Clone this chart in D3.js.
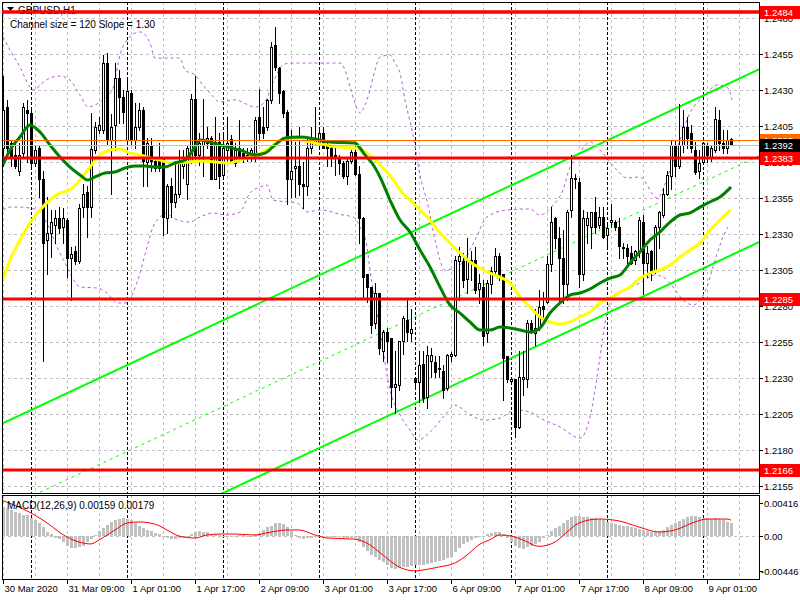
<!DOCTYPE html>
<html><head><meta charset="utf-8">
<script src="https://cdn.jsdelivr.net/npm/d3@7"></script>
<style>body{margin:0;background:#fff}svg{display:block}text{font-family:"Liberation Sans",Arial,sans-serif;}</style>
</head><body><svg id="c" width="800" height="600"></svg>
<script>
// ---------- DATA ----------
const symbolTitle = "GBPUSD,H1";
const channelText = "Channel size = 120 Slope = 1.30";
const macdText = "MACD(12,26,9) 0.00159 0.00179";
const openP=[1.2390,1.2418,1.2393,1.2385,1.2374,1.2386,1.2416,1.2414,1.2379,1.2390,
1.2368,1.2326,1.2331,1.2336,1.2341,1.2335,1.2340,1.2313,1.2318,1.2311,
1.2349,1.2359,1.2349,1.2388,1.2402,1.2402,1.2449,1.2395,1.2406,1.2438,
1.2425,1.2395,1.2428,1.2395,1.2404,1.2416,1.2380,1.2392,1.2381,1.2383,
1.2383,1.2341,1.2363,1.2352,1.2358,1.2377,1.2365,1.2381,1.2424,1.2385,
1.2392,1.2393,1.2397,1.2368,1.2394,1.2371,1.2388,1.2396,1.2379,1.2390,
1.2386,1.2383,1.2383,1.2386,1.2411,1.2404,1.2404,1.2423,1.2461,1.2445,
1.2429,1.2415,1.2368,1.2376,1.2377,1.2365,1.2363,1.2390,1.2394,1.2394,
1.2400,1.2392,1.2390,1.2385,1.2383,1.2379,1.2370,1.2381,1.2387,1.2372,
1.2341,1.2302,1.2293,1.2268,1.2289,1.2249,1.2262,1.2258,1.2224,1.2225,
1.2256,1.2270,1.2261,1.2230,1.2227,1.2240,1.2217,1.2242,1.2241,1.2236,
1.2235,1.2223,1.2245,1.2246,1.2311,1.2311,1.2299,1.2311,1.2312,1.2292,
1.2293,1.2261,1.2295,1.2304,1.2315,1.2302,1.2245,1.2228,1.2229,1.2196,
1.2229,1.2229,1.2268,1.2261,1.2265,1.2280,1.2283,1.2309,1.2341,1.2327,
1.2313,1.2295,1.2347,1.2368,1.2366,1.2302,1.2336,1.2335,1.2345,1.2336,
1.2342,1.2329,1.2338,1.2338,1.2335,1.2321,1.2320,1.2317,1.2312,1.2318,
1.2338,1.2310,1.2318,1.2305,1.2335,1.2343,1.2358,1.2370,1.2392,1.2377,
1.2392,1.2404,1.2400,1.2388,1.2374,1.2380,1.2392,1.2383,1.2388,1.2409,
1.2393,1.2390,1.2396];
const highP=[1.2440,1.2423,1.2395,1.2393,1.2393,1.2421,1.2423,1.2416,1.2392,1.2392,
1.2374,1.2356,1.2347,1.2347,1.2349,1.2348,1.2341,1.2321,1.2322,1.2351,
1.2365,1.2363,1.2414,1.2408,1.2411,1.2454,1.2456,1.2413,1.2449,1.2444,
1.2430,1.2438,1.2430,1.2421,1.2421,1.2418,1.2397,1.2397,1.2383,1.2393,
1.2383,1.2365,1.2369,1.2381,1.2388,1.2388,1.2392,1.2427,1.2440,1.2400,
1.2424,1.2404,1.2398,1.2411,1.2400,1.2400,1.2411,1.2399,1.2393,1.2409,
1.2390,1.2390,1.2390,1.2411,1.2431,1.2418,1.2424,1.2463,1.2474,1.2446,
1.2430,1.2416,1.2402,1.2394,1.2404,1.2380,1.2397,1.2404,1.2418,1.2404,
1.2404,1.2394,1.2392,1.2390,1.2385,1.2381,1.2383,1.2388,1.2394,1.2377,
1.2342,1.2302,1.2293,1.2296,1.2289,1.2263,1.2265,1.2258,1.2249,1.2256,
1.2273,1.2284,1.2278,1.2231,1.2249,1.2249,1.2252,1.2251,1.2245,1.2245,
1.2239,1.2247,1.2248,1.2315,1.2321,1.2317,1.2327,1.2318,1.2321,1.2302,
1.2298,1.2298,1.2307,1.2320,1.2317,1.2302,1.2245,1.2230,1.2229,1.2249,
1.2249,1.2270,1.2270,1.2278,1.2291,1.2290,1.2315,1.2349,1.2342,1.2335,
1.2333,1.2347,1.2385,1.2372,1.2369,1.2347,1.2345,1.2345,1.2356,1.2349,
1.2349,1.2338,1.2351,1.2340,1.2341,1.2324,1.2323,1.2322,1.2319,1.2342,
1.2343,1.2322,1.2319,1.2336,1.2346,1.2362,1.2374,1.2395,1.2395,1.2420,
1.2416,1.2411,1.2406,1.2394,1.2388,1.2394,1.2393,1.2392,1.2418,1.2416,
1.2402,1.2402,1.2397];
const lowP=[1.2377,1.2383,1.2377,1.2376,1.2371,1.2383,1.2380,1.2377,1.2377,1.2356,
1.2242,1.2302,1.2314,1.2324,1.2331,1.2324,1.2300,1.2284,1.2309,1.2310,
1.2342,1.2328,1.2342,1.2386,1.2400,1.2400,1.2392,1.2358,1.2388,1.2407,
1.2407,1.2393,1.2392,1.2390,1.2402,1.2363,1.2363,1.2374,1.2374,1.2374,
1.2329,1.2331,1.2342,1.2349,1.2356,1.2369,1.2354,1.2379,1.2381,1.2378,
1.2370,1.2390,1.2368,1.2368,1.2362,1.2368,1.2381,1.2379,1.2377,1.2381,
1.2380,1.2381,1.2381,1.2381,1.2395,1.2397,1.2402,1.2421,1.2444,1.2421,
1.2411,1.2351,1.2356,1.2356,1.2357,1.2348,1.2357,1.2386,1.2392,1.2390,
1.2390,1.2377,1.2377,1.2371,1.2372,1.2369,1.2365,1.2379,1.2371,1.2324,
1.2286,1.2283,1.2261,1.2265,1.2247,1.2242,1.2241,1.2210,1.2206,1.2222,
1.2247,1.2256,1.2256,1.2223,1.2213,1.2213,1.2209,1.2231,1.2231,1.2231,
1.2216,1.2222,1.2242,1.2245,1.2284,1.2293,1.2289,1.2298,1.2289,1.2282,
1.2253,1.2255,1.2289,1.2302,1.2298,1.2215,1.2227,1.2227,1.2189,1.2195,
1.2218,1.2224,1.2261,1.2253,1.2263,1.2268,1.2282,1.2304,1.2320,1.2282,
1.2282,1.2284,1.2342,1.2362,1.2293,1.2298,1.2324,1.2320,1.2331,1.2334,
1.2327,1.2322,1.2335,1.2333,1.2313,1.2313,1.2310,1.2309,1.2309,1.2314,
1.2288,1.2300,1.2298,1.2303,1.2320,1.2342,1.2357,1.2361,1.2370,1.2376,
1.2387,1.2390,1.2387,1.2372,1.2369,1.2379,1.2380,1.2381,1.2387,1.2388,
1.2386,1.2386,1.2392];
const closeP=[1.2416,1.2390,1.2383,1.2377,1.2385,1.2418,1.2414,1.2379,1.2388,1.2368,
1.2324,1.2331,1.2338,1.2341,1.2334,1.2341,1.2313,1.2316,1.2311,1.2348,
1.2358,1.2349,1.2389,1.2404,1.2406,1.2449,1.2395,1.2404,1.2438,1.2425,
1.2415,1.2429,1.2395,1.2404,1.2416,1.2381,1.2393,1.2381,1.2376,1.2376,
1.2342,1.2363,1.2352,1.2358,1.2381,1.2381,1.2390,1.2424,1.2385,1.2393,
1.2396,1.2397,1.2368,1.2394,1.2370,1.2390,1.2393,1.2380,1.2388,1.2383,
1.2383,1.2385,1.2388,1.2409,1.2400,1.2400,1.2423,1.2460,1.2446,1.2428,
1.2414,1.2368,1.2374,1.2377,1.2365,1.2363,1.2390,1.2397,1.2396,1.2400,
1.2390,1.2390,1.2383,1.2383,1.2379,1.2370,1.2381,1.2387,1.2372,1.2341,
1.2300,1.2293,1.2267,1.2289,1.2251,1.2262,1.2256,1.2224,1.2226,1.2256,
1.2272,1.2262,1.2264,1.2227,1.2239,1.2216,1.2246,1.2246,1.2234,1.2237,
1.2222,1.2246,1.2247,1.2312,1.2315,1.2298,1.2312,1.2312,1.2291,1.2296,
1.2259,1.2296,1.2304,1.2315,1.2300,1.2244,1.2229,1.2229,1.2196,1.2231,
1.2231,1.2268,1.2262,1.2265,1.2279,1.2278,1.2309,1.2338,1.2327,1.2313,
1.2295,1.2345,1.2369,1.2369,1.2302,1.2341,1.2341,1.2345,1.2335,1.2342,
1.2328,1.2334,1.2340,1.2335,1.2322,1.2320,1.2315,1.2310,1.2318,1.2340,
1.2310,1.2317,1.2304,1.2335,1.2345,1.2358,1.2371,1.2392,1.2377,1.2392,
1.2404,1.2397,1.2390,1.2373,1.2379,1.2393,1.2385,1.2390,1.2410,1.2393,
1.2390,1.2395,1.2392];

// moving averages: [bar, price]
const maGreen=[[0,1.23779],[1.75,1.23883],[4.25,1.23974],[6.75,1.24057],[9.25,1.24008],[11.75,1.23918],[14.25,1.23835],[16.75,1.23765],[19.25,1.2371],[21.25,1.23675],[23,1.23696],[25.5,1.23724],[28,1.23731],[30.5,1.23758],[33,1.23772],[35.5,1.23772],[38,1.23765],[40.5,1.23765],[43,1.23793],[45.5,1.23814],[48,1.23904],[49.25,1.23953],[54.25,1.23918],[59.25,1.23883],[63,1.23849],[65.5,1.23862],[68,1.23918],[70.5,1.23967],[74.25,1.23974],[78,1.2396],[81.75,1.23939],[88,1.23932],[89.25,1.23897],[90.5,1.23849],[92.25,1.23793],[94.25,1.23696],[96.75,1.23536],[99.25,1.23397],[101.75,1.23314],[104.25,1.23189],[106.75,1.23071],[109.25,1.22932],[111.75,1.22807],[114.25,1.22751],[116.75,1.22689],[119.25,1.22633],[121.75,1.22633],[124.25,1.22654],[126.75,1.22647],[129.25,1.22633],[131.75,1.22619],[134.25,1.22647],[136.75,1.22751],[139.25,1.22821],[141.75,1.22876],[144.25,1.2289],[146.75,1.22918],[149.25,1.2296],[151.75,1.22994],[154.25,1.23015],[156.75,1.23099],[159.25,1.23175],[161.75,1.23258],[164.25,1.23314],[166.75,1.23383],[169.25,1.23432],[171.75,1.23446],[174.25,1.23487],[176.75,1.23522],[179.25,1.23557],[182,1.23626]];
const maYellow=[[0,1.22981],[1.75,1.23119],[4.25,1.23258],[6.75,1.23376],[9.25,1.23467],[11.75,1.23536],[14.25,1.23585],[16.75,1.23606],[19.25,1.23675],[21.75,1.23765],[24.25,1.23849],[26.75,1.23883],[29.25,1.2389],[31.75,1.23862],[34.25,1.23849],[36.75,1.23828],[39.25,1.23814],[41.75,1.23793],[46.75,1.238],[49.25,1.23807],[56.75,1.23793],[59.25,1.23814],[61.75,1.23835],[64.25,1.23862],[66.75,1.23897],[69.25,1.23953],[71.75,1.23967],[74.25,1.23953],[79.25,1.23925],[84.25,1.23904],[88,1.23897],[90.5,1.23869],[93,1.23814],[95.5,1.23744],[98,1.23661],[99.25,1.23606],[101.75,1.23536],[104.25,1.23467],[106.75,1.23397],[109.25,1.23307],[111.75,1.23237],[114.25,1.23168],[116.75,1.23106],[119.25,1.23064],[121.75,1.23029],[124.25,1.23001],[126.75,1.2296],[129.25,1.22862],[131.75,1.22793],[134.25,1.22724],[136.75,1.22689],[139.25,1.22675],[141.75,1.22689],[144.25,1.22724],[146.75,1.22758],[149.25,1.22821],[151.75,1.22856],[154.25,1.22897],[156.75,1.22932],[159.25,1.22994],[161.75,1.23029],[164.25,1.2305],[166.75,1.23085],[169.25,1.2314],[171.75,1.23189],[174.25,1.23237],[176.75,1.23328],[179.25,1.23397],[182,1.23467]];
// envelope bands (dashed purple)
const bandUpper=[[0,1.24668],[1.75,1.24578],[4.25,1.2446],[6.75,1.24321],[8,1.243],[9.25,1.24335],[11.75,1.24383],[14.25,1.24397],[16.75,1.24369],[19.25,1.24265],[21.25,1.24182],[23,1.24196],[25.5,1.24244],[27.5,1.24314],[29.25,1.24543],[31,1.24647],[34.25,1.24703],[36.75,1.24626],[38,1.24522],[44.25,1.24522],[45.5,1.24439],[48,1.24404],[50,1.24335],[51.75,1.24279],[54.25,1.24217],[58,1.24231],[63,1.24182],[65.5,1.24217],[67.25,1.24335],[70,1.24474],[71.75,1.24487],[84.25,1.24487],[85.5,1.24439],[86.75,1.24321],[88,1.2421],[89.25,1.2414],[90.5,1.24196],[91.75,1.243],[93,1.24439],[94.25,1.24529],[96.75,1.24543],[98,1.24487],[99.25,1.24418],[100.5,1.24231],[102.5,1.23988],[104.25,1.2371],[106.25,1.23501],[108,1.23258],[110.5,1.2305],[114.25,1.23085],[118,1.23258],[121,1.23418],[126,1.23467],[131.75,1.23474],[134.25,1.23432],[137.5,1.23501],[140,1.23606],[141.75,1.23765],[143.5,1.23835],[146.75,1.23939],[149.25,1.23883],[153.5,1.23744],[156,1.23689],[159.25,1.23696],[163.5,1.2355],[166.75,1.23744],[169.25,1.23953],[171.75,1.2414],[175,1.24251],[178.75,1.24335],[181.25,1.24314],[182.25,1.24231]];
const bandLower=[[0,1.23467],[1.75,1.23487],[4.25,1.23487],[6.75,1.2348],[9.25,1.23453],[11.75,1.23328],[13.5,1.2321],[16,1.23071],[17.25,1.23001],[19.25,1.22932],[23.5,1.22925],[26,1.2289],[28.5,1.22821],[31,1.22821],[32.5,1.2289],[34.25,1.23029],[36,1.2321],[37.5,1.23349],[39.25,1.23418],[41,1.23446],[42.5,1.23411],[46.75,1.23383],[49.25,1.23418],[52.5,1.23446],[56,1.23432],[59.25,1.23453],[61.75,1.23585],[64.25,1.23626],[66,1.2364],[67.5,1.23536],[73.5,1.23515],[76,1.23453],[79.25,1.23467],[85,1.23432],[87.5,1.23418],[89.25,1.23349],[91,1.2321],[91.75,1.2305],[94.25,1.22633],[96.75,1.22217],[99.25,1.22043],[101.75,1.21939],[103.75,1.21869],[106.75,1.21925],[110.5,1.22043],[113,1.22112],[116.75,1.22043],[120.5,1.22008],[124.25,1.22022],[128,1.22078],[131.75,1.22064],[134.25,1.22022],[139.25,1.2196],[144.25,1.21883],[146.75,1.22029],[148,1.22217],[149.25,1.22446],[150.5,1.22682],[151.75,1.22821],[155.5,1.22911],[159.25,1.2296],[163,1.23015],[165,1.23001],[167.5,1.22932],[170,1.22842],[172.5,1.22807],[174.75,1.22862],[176,1.22932],[177.5,1.23071],[180,1.23279],[181.25,1.23349]];
// regression channel
const channelSlope = 0.00013;      // price per bar
const channelSize = 0.0120;
const channelRefBar = 188;
const channelUpperAtRef = 1.2443;
// horizontal levels
const redLevels=[1.2484,1.2383,1.2285,1.2166];
const orangeLevel=1.2395;
const bidLevel=1.2392;
// axes
const priceTicks=[1.2480,1.2455,1.2430,1.2405,1.2380,1.2355,1.2330,1.2305,1.2280,1.2255,1.2230,1.2205,1.2180,1.2155];
const macdTicks=[0.00416,0,-0.00446];
const timeLabelBars=[0,16,32,48,64,80,96,112,128,144,160,176];
const timeLabels=["30 Mar 2020","31 Mar 09:00","1 Apr 01:00","1 Apr 17:00","2 Apr 09:00","3 Apr 01:00","3 Apr 17:00","6 Apr 09:00","7 Apr 01:00","7 Apr 17:00","8 Apr 09:00","9 Apr 01:00"];
const dayStartBars=[7,31,55,79,103,127,151,175];
// MACD
const macdHist=[.00370,.00350,.00330,.00300,.00290,.00270,.00260,.00230,.00200,.00160,
.00110,.00050,.00020,-.00020,-.00040,-.00080,-.00120,-.00150,-.00155,-.00140,
-.00120,-.00080,-.00040,.00010,.00060,.00100,.00140,.00180,.00200,.00220,
.00225,.00220,.00200,.00170,.00130,.00100,.00080,.00060,.00040,.00020,
-.00010,-.00030,-.00040,-.00040,-.00030,-.00020,-.00010,.00030,.00050,.00060,
.00055,.00045,.00030,.00020,.00010,.00005,.00005,.00000,.00005,.00010,
.00010,.00005,.00005,.00020,.00040,.00070,.00110,.00130,.00160,.00165,
.00150,.00110,.00060,.00010,-.00030,-.00040,-.00030,-.00020,-.00010,-.00005,
.00000,-.00005,-.00010,-.00010,-.00015,-.00020,-.00020,-.00020,-.00030,-.00080,
-.00140,-.00190,-.00240,-.00260,-.00300,-.00330,-.00360,-.00400,-.00420,-.00400,
-.00395,-.00390,-.00380,-.00370,-.00370,-.00360,-.00350,-.00340,-.00330,-.00320,
-.00300,-.00280,-.00260,-.00200,-.00150,-.00100,-.00080,-.00050,-.00030,-.00010,
.00000,.00020,.00040,.00050,.00050,.00020,-.00030,-.00080,-.00120,-.00150,
-.00160,-.00140,-.00120,-.00100,-.00070,-.00030,.00010,.00060,.00100,.00130,
.00160,.00200,.00240,.00250,.00250,.00240,.00240,.00230,.00230,.00220,
.00200,.00180,.00170,.00150,.00140,.00130,.00120,.00110,.00100,.00090,
.00070,.00060,.00050,.00050,.00060,.00080,.00110,.00140,.00170,.00190,
.00220,.00240,.00250,.00250,.00240,.00230,.00230,.00220,.00230,.00220,
.00200,.00180,.00165];
const macdSignal=[[0,.00445],[7,.0029],[10,.0020],[16,-.00013],[19,-.00076],[22,-.0010],[24,-.0005],[28,.00076],[31,.00164],[34,.00177],[38,.0015],[41,.00076],[44,0],[48,-.00025],[51,.00013],[54,.00025],[58,.00025],[63,.00013],[66,.0004],[71,.00076],[74,.00076],[78,.00013],[81,-.00025],[88,-.0004],[91,-.0009],[95,-.0024],[99,-.0039],[103,-.0044],[106,-.0042],[109,-.0039],[113,-.0034],[116,-.0024],[119,-.0011],[122,-.0004],[124,.00013],[127,0],[130,-.0005],[134,-.0013],[138,-.00076],[141,.0005],[144,.00164],[149,.00214],[154,.0019],[159,.00113],[164,.0005],[168,.00076],[173,.00177],[176,.00214],[181,.00214],[182,.0020]];

// ---------- LAYOUT ----------
const X0=2, X1=759, Y0=2, Y1=493, M0=495, M1=579;
const x=d3.scaleLinear().domain([0,189]).range([3,759]);
const y=d3.scaleLinear().domain([1.2155,1.2480]).range([486,18]);
const ym=d3.scaleLinear().domain([-0.00446,0.00416]).range([571.4,503]);
const px=v=>Math.round(v)+0.5;

const svg=d3.select("#c");
svg.append("rect").attr("width",800).attr("height",600).attr("fill","#fff");
const defs=svg.append("defs");
defs.append("clipPath").attr("id","cm").append("rect").attr("x",X0).attr("y",Y0).attr("width",X1-X0).attr("height",Y1-Y0);
defs.append("clipPath").attr("id","cd").append("rect").attr("x",X0).attr("y",M0).attr("width",X1-X0).attr("height",M1-M0);

const gm=svg.append("g").attr("clip-path","url(#cm)");
const gd=svg.append("g").attr("clip-path","url(#cd)");

// grids
const gridBars=d3.range(0,189,8);
[[gm,Y0,Y1],[gd,M0,M1]].forEach(([g,a,b])=>{
  g.selectAll(null).data(gridBars).join("line")
   .attr("x1",d=>px(x(d))).attr("x2",d=>px(x(d))).attr("y1",a).attr("y2",b)
   .attr("stroke","#c0c0c0").attr("stroke-dasharray","3,3");
});
gm.selectAll(null).data(priceTicks).join("line")
  .attr("x1",X0).attr("x2",X1).attr("y1",d=>px(y(d))).attr("y2",d=>px(y(d)))
  .attr("stroke","#c0c0c0").attr("stroke-dasharray","3,3");
gd.append("line").attr("x1",X0).attr("x2",X1).attr("y1",px(ym(0))).attr("y2",px(ym(0)))
  .attr("stroke","#c0c0c0").attr("stroke-dasharray","3,3");
[[gm,Y0,Y1],[gd,M0,M1]].forEach(([g,a,b])=>{
  g.selectAll(null).data(dayStartBars).join("line")
   .attr("x1",d=>px(x(d))).attr("x2",d=>px(x(d))).attr("y1",a).attr("y2",b)
   .attr("stroke","#000").attr("stroke-dasharray","3,2");
});

// bands
const lineP=d3.line().x(d=>x(d[0])).y(d=>y(d[1])).curve(d3.curveMonotoneX);
[bandUpper,bandLower].forEach(b=>gm.append("path").attr("d",lineP(b)).attr("fill","none")
  .attr("stroke","#b85cd8").attr("stroke-width",1).attr("stroke-dasharray","3,3"));

// channel
const chan=(bar,off)=>channelUpperAtRef-off+(bar-channelRefBar)*channelSlope;
[[0,2,null],[channelSize,2,null],[channelSize/2,1,"3,4"]].forEach(([off,w,da])=>{
  gm.append("line").attr("x1",x(-5)).attr("y1",y(chan(-5,off))).attr("x2",x(195)).attr("y2",y(chan(195,off)))
    .attr("stroke","#00ff00").attr("stroke-width",w).attr("stroke-dasharray",da);
});

// candles
const idx=d3.range(openP.length);
const cg=gm.append("g");
idx.forEach(i=>{
  const o=openP[i],c=closeP[i],h=Math.max(highP[i],o,c),l=Math.min(lowP[i],o,c);
  const cx=Math.round(x(i));
  cg.append("line").attr("x1",cx+0.5).attr("x2",cx+0.5).attr("y1",Math.round(y(h))).attr("y2",Math.round(y(l))+1)
    .attr("stroke","#000").attr("stroke-width",1);
  const t=Math.round(y(Math.max(o,c))), bt=Math.round(y(Math.min(o,c)));
  cg.append("rect").attr("x",cx-0.5).attr("y",t+0.5).attr("width",2).attr("height",Math.max(bt-t,0))
    .attr("fill",c>=o?"#fff":"#000").attr("stroke","#000").attr("stroke-width",1);
});

// moving averages
gm.append("path").attr("d",lineP(maYellow)).attr("fill","none").attr("stroke","#ffff00").attr("stroke-width",3);
gm.append("path").attr("d",lineP(maGreen)).attr("fill","none").attr("stroke","#008000").attr("stroke-width",3);

// levels
gm.append("line").attr("x1",X0).attr("x2",X1).attr("y1",px(y(orangeLevel))).attr("y2",px(y(orangeLevel))).attr("stroke","#ff6a00");
gm.append("line").attr("x1",X0).attr("x2",X1).attr("y1",px(y(bidLevel))).attr("y2",px(y(bidLevel))).attr("stroke","#c0c0c0");
gm.selectAll(null).data(redLevels).join("line").attr("x1",X0).attr("x2",X1)
  .attr("y1",d=>Math.round(y(d))).attr("y2",d=>Math.round(y(d))).attr("stroke","#ff0000").attr("stroke-width",3);

// MACD
gd.selectAll(null).data(macdHist).join("rect")
  .attr("x",(d,i)=>Math.round(x(i))-1).attr("width",3)
  .attr("y",d=>Math.round(Math.min(ym(d),ym(0)))).attr("height",d=>Math.max(1,Math.round(Math.abs(ym(d)-ym(0)))))
  .attr("fill","#c0c0c0");
gd.append("path").attr("d",d3.line().x(d=>x(d[0])).y(d=>ym(d[1])).curve(d3.curveMonotoneX)(macdSignal))
  .attr("fill","none").attr("stroke","#ff0000").attr("stroke-width",1);

// frames
svg.append("rect").attr("x",X0+0.5).attr("y",Y0+0.5).attr("width",X1-X0).attr("height",Y1-Y0).attr("fill","none").attr("stroke","#000");
svg.append("rect").attr("x",X0+0.5).attr("y",M0+0.5).attr("width",X1-X0).attr("height",M1-M0).attr("fill","none").attr("stroke","#000");

// price axis
const fs="9.5px";
priceTicks.forEach(p=>{
  svg.append("line").attr("x1",X1+1).attr("x2",X1+4).attr("y1",px(y(p))).attr("y2",px(y(p))).attr("stroke","#000");
  svg.append("text").attr("x",764).attr("y",y(p)+4).attr("font-size",fs).text(p.toFixed(4));
});
macdTicks.forEach(v=>{
  svg.append("line").attr("x1",X1+1).attr("x2",X1+4).attr("y1",px(ym(v))).attr("y2",px(ym(v))).attr("stroke","#000");
  svg.append("text").attr("x",v<0?761:764).attr("y",ym(v)+4).attr("font-size",fs).text(v===0?"0.00":v.toFixed(5));
});
const tag=(p,bg,fg)=>{
  const yy=Math.round(y(p));
  svg.append("rect").attr("x",760).attr("y",yy-6).attr("width",40).attr("height",13).attr("fill",bg);
  svg.append("text").attr("x",764).attr("y",yy+4).attr("font-size",fs).attr("fill",fg).text(p.toFixed(4));
};
tag(orangeLevel,"#ff6a00","#fff");
tag(bidLevel,"#000","#fff");
redLevels.forEach(p=>tag(p,"#ff0000","#fff"));

// time axis
timeLabelBars.forEach((b,k)=>{
  const xx=px(x(b));
  svg.append("line").attr("x1",xx).attr("x2",xx).attr("y1",M1+1).attr("y2",M1+5).attr("stroke","#000");
  svg.append("text").attr("x",xx+1).attr("y",592).attr("font-size",fs).text(timeLabels[k]);
});

// titles
svg.append("path").attr("d","M7,7 L14,7 L10.5,11 Z").attr("fill","#000");
svg.append("text").attr("x",18).attr("y",14).attr("font-size","10px").text(symbolTitle);
svg.append("text").attr("x",10).attr("y",28).attr("font-size","10px").text(channelText);
svg.append("text").attr("x",7).attr("y",509).attr("font-size","10px").text(macdText);
// red level line over the title (as in the terminal)
svg.append("line").attr("x1",X0).attr("x2",X1).attr("y1",Math.round(y(redLevels[0]))).attr("y2",Math.round(y(redLevels[0]))).attr("stroke","#ff0000").attr("stroke-width",3);
</script></body></html>
